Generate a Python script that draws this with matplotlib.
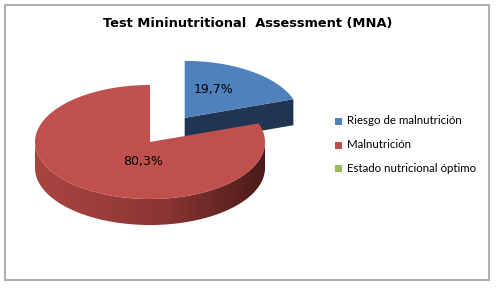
import numpy as np
import matplotlib
matplotlib.use("Agg")
import matplotlib.pyplot as plt
from matplotlib.patches import Polygon, Rectangle
from matplotlib.colors import LinearSegmentedColormap


# data
categories = ["Riesgo de malnutrición", "Malnutrición", "Estado nutricional óptimo"]
values = [19.7, 80.3, 0.0]
pct_labels = ["19,7%", "80,3%", ""]
top_colors = ["#4F81BD", "#C0504D", "#9BBB59"]
explode = [0.52, 0.0, 0.0]
title = "Test Mininutritional  Assessment (MNA)"

# pie geometry (pixels)
cx, cy = 150, 142
a, b = 115, 57
depth = 26
label_pos = [(0.25, 0.50), (-0.06, -0.35), (0, 0)]

side_dark = ["#1F3552", "#4a1b1a", "#5f7a35"]
side_light = ["#2a4670", "#a84440", "#7f9c48"]


def ell(x0, y0, t):
    return x0 + a * np.cos(t), y0 - b * np.sin(t)


fig = plt.figure(figsize=(4.96, 2.88), dpi=100)
ax = fig.add_axes([0, 0, 1, 1])
ax.set_xlim(0, 496)
ax.set_ylim(288, 0)
ax.axis("off")

ax.add_patch(Rectangle((5, 5), 484, 275, fill=False, ec="#b0b0b0", lw=1.5))

ax.text(248, 24, title, ha="center", va="center", fontsize=9.4,
        fontweight="bold", color="#000000")

# angles, clockwise from 12 o'clock
total = sum(values)
starts = []
ang = 90.0
for v in values:
    sweep = 360.0 * v / total
    starts.append((ang - sweep, ang))
    ang -= sweep

# exploded slices first, they sit behind
order = sorted(range(len(values)), key=lambda i: -explode[i])
for i in order:
    if values[i] <= 0:
        continue
    t0, t1 = np.radians(starts[i][0]), np.radians(starts[i][1])
    mid = (t0 + t1) / 2
    x0 = cx + explode[i] * a * np.cos(mid)
    y0 = cy - explode[i] * b * np.sin(mid)

    # cut face on the start edge
    if np.sin(t0 - np.pi / 2) < 0 and explode[i] > 0:
        ex, ey = ell(x0, y0, t0)
        ax.add_patch(Polygon([(x0, y0), (ex, ey), (ex, ey + depth), (x0, y0 + depth)],
                             closed=True, fc=side_dark[i], ec="none"))

    # outer wall, front half only, with a left-to-right gradient
    ts = np.linspace(t0, t1, 600)
    front = ts[np.sin(ts) <= 0]
    if len(front) > 1:
        xs, ys = ell(x0, y0, front)
        wall = list(zip(xs, ys)) + list(zip(xs[::-1], ys[::-1] + depth))
        wp = Polygon(wall, closed=True, fc="none", ec="none")
        ax.add_patch(wp)
        cmap = LinearSegmentedColormap.from_list(
            "w", [side_light[i], "#8a3533", side_dark[i]])
        grad = np.linspace(0, 1, 256)[None, :] ** 1.2
        im = ax.imshow(grad, cmap=cmap, aspect="auto",
                       extent=(xs.min(), xs.max(), ys.max() + depth, ys.min()),
                       interpolation="bilinear")
        im.set_clip_path(wp)

    # top face
    xs, ys = ell(x0, y0, ts)
    pts = [(x0, y0)] + list(zip(xs, ys))
    ax.add_patch(Polygon(pts, closed=True, fc=top_colors[i], ec="none"))

    lx = x0 + label_pos[i][0] * a
    ly = y0 - label_pos[i][1] * b
    ax.text(lx, ly, pct_labels[i], ha="center", va="center", fontsize=9,
            color="#000000")

ax.set_xlim(0, 496)
ax.set_ylim(288, 0)

# legend
leg_y = [121, 145, 168]
for i, name in enumerate(categories):
    ax.add_patch(Rectangle((335, leg_y[i] - 3.5), 7, 7, fc=top_colors[i], ec="none"))
    ax.text(347, leg_y[i], name, ha="left", va="center", fontsize=8.3,
            family="Lato", color="#000000")

fig.savefig("out.png", dpi=100)
